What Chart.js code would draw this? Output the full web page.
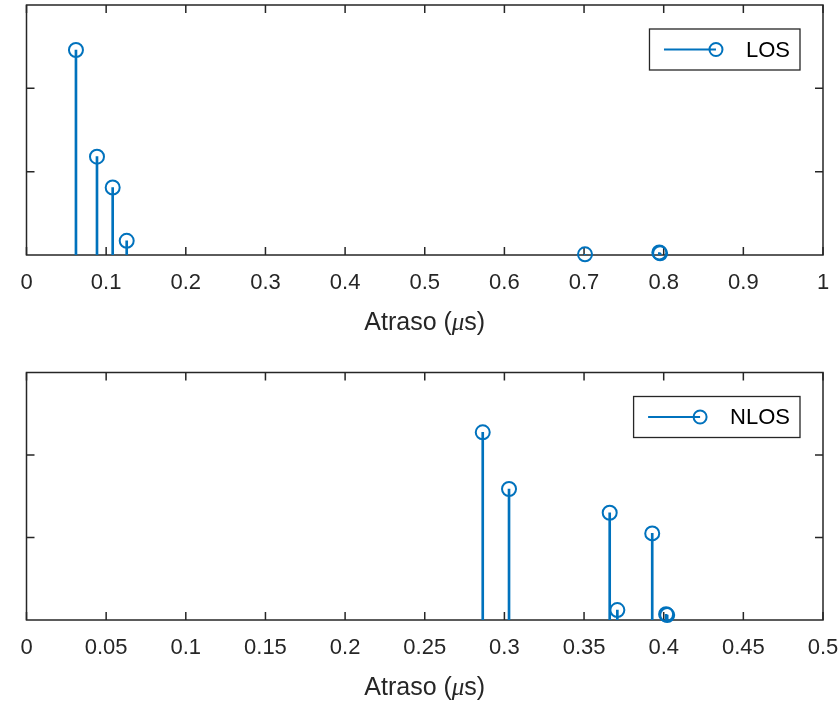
<!DOCTYPE html>
<html>
<head>
<meta charset="utf-8">
<script src="https://cdn.jsdelivr.net/npm/chart.js@4.4.1/dist/chart.umd.min.js"></script>
<style>
  html, body { margin: 0; padding: 0; background: #fff; }
  .wrap { position: absolute; left: 0; width: 839px; height: 351px; }
</style>
</head>
<body>
<div class="wrap" style="top:0"><canvas id="losChart"></canvas></div>
<div class="wrap" style="top:351px"><canvas id="nlosChart"></canvas></div>
<script>
// LOS profile (top)
const losDelay = [0.0621, 0.0885, 0.1082, 0.1258, 0.7012, 0.7945, 0.7955];
const losGain = [2.46, 1.18, 0.81, 0.17, 0.008, 0.03, 0.02];
const losTicks = [0, 0.1, 0.2, 0.3, 0.4, 0.5, 0.6, 0.7, 0.8, 0.9, 1];

// NLOS profile (bottom)
const nlosDelay = [0.2864, 0.3029, 0.3661, 0.3709, 0.3928, 0.4015, 0.4022];
const nlosGain = [2.275, 1.588, 1.30, 0.12, 1.05, 0.07, 0.06];
const nlosTicks = [0, 0.05, 0.1, 0.15, 0.2, 0.25, 0.3, 0.35, 0.4, 0.45, 0.5];

const yTicks = [1, 2];
const xTitle = ['Atraso (', 'μ', 's)'];

const blue = '#0072BD';
const axisColor = '#262626';
const sans = '"Liberation Sans", Arial, Helvetica, sans-serif';

const stemPlot = {
    id: 'stemPlot',
    beforeDatasetsDraw(chart) {
        const ctx = chart.ctx, a = chart.chartArea;
        const xs = chart.scales.x, ys = chart.scales.y;
        ctx.save();
        ctx.strokeStyle = axisColor;
        ctx.lineWidth = 1.5;
        ctx.strokeRect(a.left, a.top, a.right - a.left, a.bottom - a.top);
        ctx.beginPath();
        chart.options.plugins.stemPlot.xTicks.forEach(v => {
            const px = xs.getPixelForValue(v);
            ctx.moveTo(px, a.bottom); ctx.lineTo(px, a.bottom - 8);
            ctx.moveTo(px, a.top); ctx.lineTo(px, a.top + 8);
        });
        yTicks.forEach(v => {
            const py = ys.getPixelForValue(v);
            ctx.moveTo(a.left, py); ctx.lineTo(a.left + 8, py);
            ctx.moveTo(a.right, py); ctx.lineTo(a.right - 8, py);
        });
        ctx.stroke();
        ctx.restore();
    },
    afterDraw(chart) {
        const ctx = chart.ctx, a = chart.chartArea;
        const label = chart.options.plugins.stemPlot.label;
        ctx.save();
        // legend
        ctx.font = '22px ' + sans;
        const tw = ctx.measureText(label).width;
        const boxRight = a.right - 23, boxTop = a.top + 24, boxH = 41;
        const textLeft = boxRight - 10 - tw;
        const cx = textLeft - 30, lineStart = cx - 52, boxLeft = lineStart - 14.5;
        const cy = boxTop + boxH / 2;
        ctx.fillStyle = '#fff';
        ctx.fillRect(boxLeft, boxTop, boxRight - boxLeft, boxH);
        ctx.strokeStyle = axisColor;
        ctx.lineWidth = 1.3;
        ctx.strokeRect(boxLeft, boxTop, boxRight - boxLeft, boxH);
        ctx.strokeStyle = blue;
        ctx.lineWidth = 2;
        ctx.beginPath();
        ctx.moveTo(lineStart, cy); ctx.lineTo(cx, cy);
        ctx.stroke();
        ctx.beginPath();
        ctx.arc(cx, cy, 6.5, 0, Math.PI * 2);
        ctx.stroke();
        ctx.fillStyle = '#000';
        ctx.textBaseline = 'middle';
        ctx.textAlign = 'left';
        ctx.fillText(label, textLeft, cy + 1);

        // x axis title with italic mu
        const fonts = ['25px ' + sans, 'italic 25px "Liberation Serif", serif', '25px ' + sans];
        const widths = xTitle.map((t, i) => { ctx.font = fonts[i]; return ctx.measureText(t).width; });
        let tx = (a.left + a.right) / 2 - widths.reduce((s, w) => s + w, 0) / 2;
        const ty = a.bottom + 68;
        ctx.fillStyle = axisColor;
        xTitle.forEach((t, i) => {
            ctx.font = fonts[i];
            ctx.fillText(t, tx, ty);
            tx += widths[i];
        });
        ctx.restore();
    }
};

function makeChart(id, delays, gains, ticks, label, top, axisHeight) {
    const ctx = document.getElementById(id).getContext('2d');
    const points = delays.map((d, i) => ({ x: d, y: gains[i] }));
    return new Chart(ctx, {
        type: 'bar',
        data: {
            datasets: [{
                type: 'bar',
                data: points,
                backgroundColor: blue,
                borderWidth: 0,
                barThickness: 2,
                order: 2
            }, {
                type: 'scatter',
                data: points,
                showLine: false,
                pointRadius: 7,
                pointBorderWidth: 2,
                pointBorderColor: blue,
                pointBackgroundColor: 'rgba(0,0,0,0)',
                clip: false,
                order: 1
            }]
        },
        options: {
            responsive: true,
            maintainAspectRatio: false,
            animation: false,
            layout: { autoPadding: false, padding: { left: 26.5, right: 16, top: top, bottom: 0 } },
            scales: {
                x: {
                    type: 'linear',
                    min: 0,
                    max: ticks[ticks.length - 1],
                    offset: false,
                    grid: { display: false },
                    border: { display: false },
                    afterBuildTicks: s => { s.ticks = ticks.map(v => ({ value: v })); },
                    afterFit: s => {
                        s.height = axisHeight;
                        s.paddingLeft = 0;
                        s.paddingRight = 0;
                    },
                    ticks: {
                        autoSkip: false,
                        maxRotation: 0,
                        padding: 7,
                        color: axisColor,
                        font: { family: sans, size: 22 },
                        callback: v => String(v)
                    }
                },
                y: {
                    type: 'linear',
                    min: 0,
                    max: 3,
                    display: false
                }
            },
            plugins: {
                legend: { display: false },
                tooltip: { enabled: false },
                stemPlot: { label: label, xTicks: ticks }
            }
        },
        plugins: [stemPlot]
    });
}

makeChart('losChart', losDelay, losGain, losTicks, 'LOS', 5, 96);
makeChart('nlosChart', nlosDelay, nlosGain, nlosTicks, 'NLOS', 21.5, 82);
</script>
</body>
</html>
